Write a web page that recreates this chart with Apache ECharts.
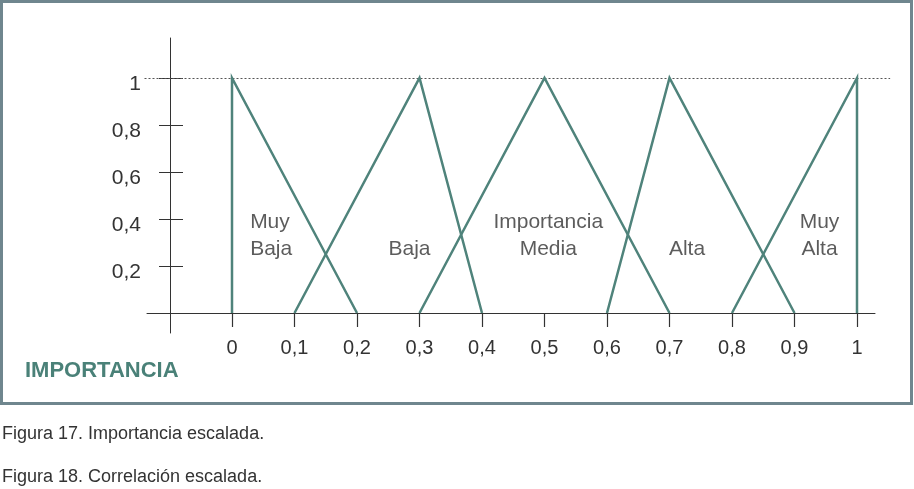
<!DOCTYPE html>
<html>
<head>
<meta charset="utf-8">
<script src="https://cdn.jsdelivr.net/npm/echarts@6/dist/echarts.min.js"></script>
<style>
  html, body { margin: 0; padding: 0; background: #fff; }
  #chart { width: 914px; height: 489px; }
</style>
</head>
<body>
<div id="chart"></div>
<script>
// Fuzzy sets of the scaled "importancia" variable: each set is a triangle (x, membership)
const setNames = ['Muy\nBaja', 'Baja', 'Importancia\nMedia', 'Alta', 'Muy\nAlta'];
const muyBaja = [[0, 0], [0, 1], [0.2, 0]];
const baja    = [[0.1, 0], [0.3, 1], [0.4, 0]];
const media   = [[0.3, 0], [0.5, 1], [0.7, 0]];
const alta    = [[0.6, 0], [0.7, 1], [0.9, 0]];
const muyAlta = [[0.8, 0], [1, 1], [1, 0]];

// Tick values on each axis
const xTicks = [0, 0.1, 0.2, 0.3, 0.4, 0.5, 0.6, 0.7, 0.8, 0.9, 1];
const yTicks = [0.2, 0.4, 0.6, 0.8, 1];

// Texts
const axisTitle = 'IMPORTANCIA';
const captions = ['Figura 17. Importancia escalada.', 'Figura 18. Correlación escalada.'];

// Layout helpers (where each set name sits, in data units)
const nameSpots = [
  { x: 0.029, align: 'left' },
  { x: 0.284, align: 'center' },
  { x: 0.506, align: 'center' },
  { x: 0.728, align: 'center' },
  { x: 0.940, align: 'center' }
];
const nameBaseY = 0.213;
const refLineSpan = [-0.14, 1.053];

const TEAL = '#4f837b';
const INK = '#333333';
const FONT = '"Liberation Sans", Arial, Helvetica, sans-serif';
const comma = v => String(v).replace('.', ',');

const sets = [muyBaja, baja, media, alta, muyAlta];

const chart = echarts.init(document.getElementById('chart'), null, { renderer: 'canvas' });

chart.setOption({
  animation: false,
  backgroundColor: '#ffffff',
  graphic: [{
    type: 'rect',
    shape: { x: 1.5, y: 1.5, width: 910, height: 402 },
    style: { fill: null, stroke: '#6f868e', lineWidth: 3 },
    silent: true
  }],
  title: [
    {
      text: axisTitle, left: 25, top: 360, padding: 0,
      textStyle: { color: '#4a8178', fontSize: 22, fontWeight: 'bold', fontFamily: FONT }
    },
    {
      text: captions[0], left: 2, top: 425, padding: 0,
      textStyle: { color: INK, fontSize: 18, fontWeight: 'normal', fontFamily: FONT }
    },
    {
      text: captions[1], left: 2, top: 468, padding: 0,
      textStyle: { color: INK, fontSize: 18, fontWeight: 'normal', fontFamily: FONT }
    }
  ],
  grid: { left: 147, top: 38, width: 728, height: 295, containLabel: false },
  xAxis: {
    type: 'value', min: -0.136, max: 1.0288,
    axisLine: { onZero: true, lineStyle: { color: INK, width: 1 } },
    axisTick: { customValues: xTicks, length: 14, lineStyle: { color: INK, width: 1.2 } },
    axisLabel: {
      customValues: xTicks, formatter: comma, margin: 5,
      fontSize: 20, color: INK, fontFamily: FONT
    },
    splitLine: { show: false }
  },
  yAxis: [
    {
      type: 'value', min: -0.085, max: 1.17, position: 'left', offset: -23,
      axisLine: { show: true, onZero: false, lineStyle: { color: INK, width: 1 } },
      axisTick: { customValues: yTicks, length: 11, lineStyle: { color: INK, width: 1 } },
      axisLabel: {
        customValues: yTicks, formatter: comma, margin: 29,
        fontSize: 21, color: INK, fontFamily: FONT,
        verticalAlign: 'top', lineHeight: 12
      },
      splitLine: { show: false }
    },
    {
      type: 'value', min: -0.085, max: 1.17, position: 'left', offset: -23,
      axisLine: { show: false, onZero: false },
      axisTick: { customValues: yTicks, inside: true, length: 13, lineStyle: { color: INK, width: 1 } },
      axisLabel: { show: false },
      splitLine: { show: false }
    }
  ],
  series: [
    // dotted reference line at full membership
    {
      type: 'custom', clip: false, silent: true, z: 1,
      data: [[refLineSpan[0], refLineSpan[1], 1]],
      renderItem: (params, api) => {
        const a = api.coord([api.value(0), api.value(2)]);
        const b = api.coord([api.value(1), api.value(2)]);
        return {
          type: 'line',
          shape: { x1: a[0], y1: Math.round(a[1]) + 0.5, x2: b[0], y2: Math.round(b[1]) + 0.5 },
          style: { stroke: '#555', lineWidth: 1, lineDash: [2, 2] }
        };
      }
    },
    ...sets.map((pts, i) => ({
      name: setNames[i].replace('\n', ' '),
      type: 'line',
      data: pts,
      symbol: 'none',
      z: 3,
      lineStyle: { color: TEAL, width: 2.5, join: 'miter' }
    })),
    // set names
    {
      type: 'scatter', symbolSize: 0, silent: true, z: 4,
      data: nameSpots.map((s, i) => ({
        value: [s.x, nameBaseY],
        label: { formatter: setNames[i], align: s.align }
      })),
      label: {
        show: true, position: 'top', distance: 0,
        fontSize: 21, lineHeight: 27, color: INK, fontFamily: FONT
      }
    }
  ]
});
</script>
</body>
</html>
